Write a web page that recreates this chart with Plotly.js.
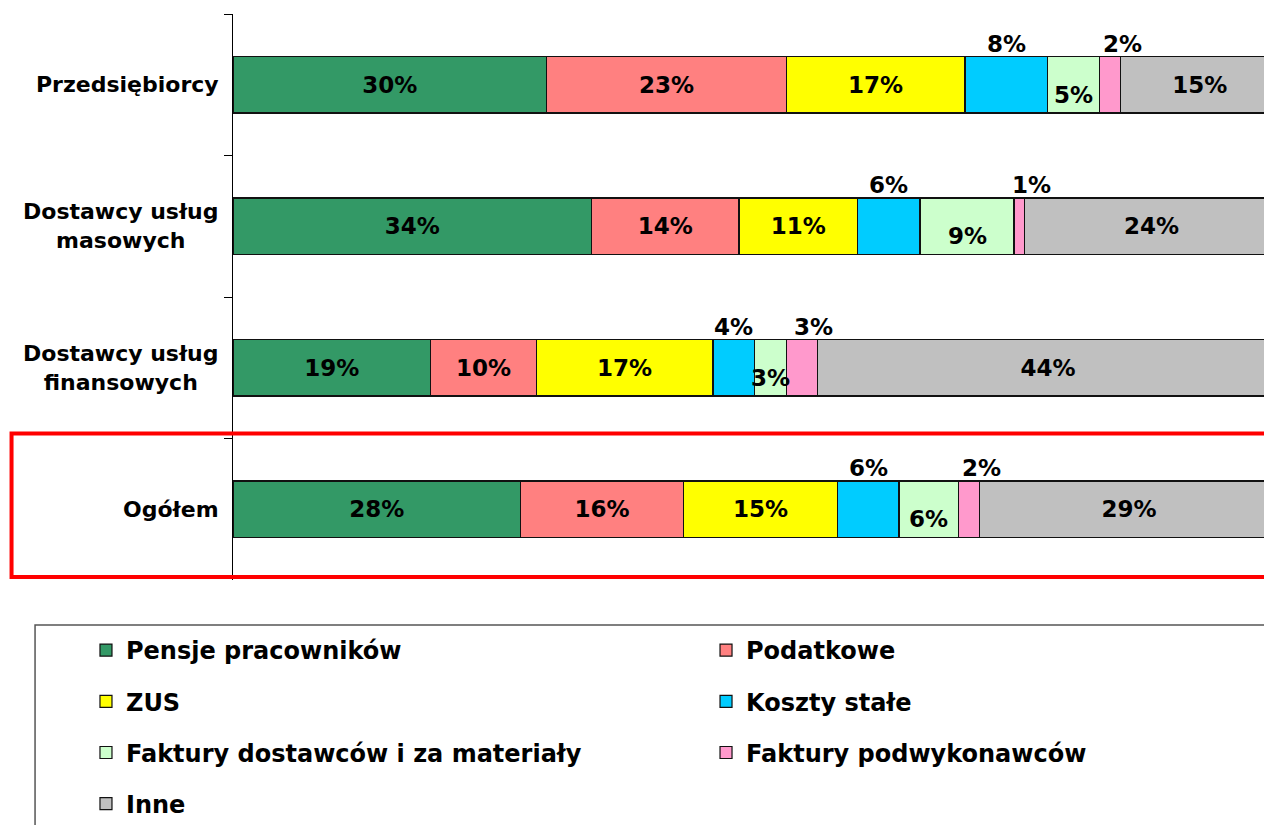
<!DOCTYPE html>
<html>
<head>
<meta charset="utf-8">
<script src="https://cdn.plot.ly/plotly-3.0.1.min.js"></script>
<style>
  html, body { margin: 0; padding: 0; background: #fff; overflow: hidden; }
  #chart { width: 1264px; height: 825px; }
</style>
</head>
<body>
<div id="chart"></div>
<script>
// Categories (top to bottom) and shares per cost type, in %
const categories = ['Przedsiębiorcy', 'Dostawcy usług<br>masowych', 'Dostawcy usług<br>finansowych', 'Ogółem'];
const pensje = [30.0, 34.3, 18.9, 27.5];
const podatkowe = [22.9, 14.1, 10.1, 15.6];
const zus = [17.1, 11.3, 16.9, 14.7];
const kosztyStale = [7.9, 6.0, 4.0, 5.9];
const fakturyDostawcow = [5.0, 9.0, 3.0, 5.7];
const fakturyPodwyk = [2.0, 1.0, 3.0, 2.0];
const inne = [15.1, 24.3, 44.1, 28.6];

const seriesNames = ['Pensje pracowników', 'Podatkowe', 'ZUS', 'Koszty stałe',
  'Faktury dostawców i za materiały', 'Faktury podwykonawców', 'Inne'];
const seriesValues = [pensje, podatkowe, zus, kosztyStale, fakturyDostawcow, fakturyPodwyk, inne];
const seriesColors = ['#339966', '#FF8080', '#FFFF00', '#00CCFF', '#CCFFCC', '#FF99CC', '#C0C0C0'];

// where each label goes: inside the bar, above it, or pushed down a bit
const labelMode = ['inside', 'inside', 'inside', 'above', 'low', 'above', 'inside'];
const legendColumn = ['legend', 'legend2', 'legend', 'legend2', 'legend', 'legend2', 'legend'];

const family = 'Tahoma, "DejaVu Sans", sans-serif';
const catFont = { family: family, size: 22, color: '#000', weight: 'bold' };
const barFont = { family: family, size: 23, color: '#000', weight: 'bold' };
const legendFont = { family: family, size: 24, color: '#000', weight: 'bold' };

const traces = seriesNames.map((name, i) => ({
  type: 'bar',
  orientation: 'h',
  name: name,
  x: seriesValues[i],
  y: categories,
  marker: { color: seriesColors[i], line: { color: '#111', width: 1.2 } },
  text: labelMode[i] === 'inside' ? seriesValues[i].map(v => Math.round(v) + '%') : null,
  textposition: labelMode[i] === 'inside' ? 'inside' : 'none',
  insidetextanchor: 'middle',
  constraintext: 'none',
  textangle: 0,
  textfont: barFont,
  legend: legendColumn[i],
  legendgroup: 'g' + i,
  hoverinfo: 'name+x'
}));

// labels that Excel placed outside the centre of the segment
const annotations = [];
categories.forEach((cat, c) => {
  let start = 0;
  seriesValues.forEach((vals, i) => {
    const v = vals[c];
    if (labelMode[i] === 'above' || labelMode[i] === 'low') {
      annotations.push({
        x: start + v / 2, y: cat, xref: 'x', yref: 'y',
        text: Math.round(v) + '%', showarrow: false, font: barFont,
        yshift: labelMode[i] === 'above' ? 41 : -10,
        xshift: i === 5 ? 12 : 0
      });
    }
    start += v;
  });
  // category label, lines centred on each other
  annotations.push({
    x: -0.012, xref: 'paper', xanchor: 'right', y: cat, yref: 'y',
    text: cat, align: 'center', showarrow: false, font: catFont
  });
});

const layout = {
  width: 1264,
  height: 825,
  margin: { l: 233, r: 0, t: 14, b: 245, autoexpand: false },
  paper_bgcolor: '#fff',
  plot_bgcolor: '#fff',
  font: barFont,
  barmode: 'stack',
  bargap: 0.6,
  xaxis: { range: [0, 98.6], visible: false, fixedrange: true },
  yaxis: {
    type: 'category',
    autorange: 'reversed',
    showline: true, linecolor: '#000', linewidth: 1,
    ticks: 'outside', tickson: 'boundaries', ticklen: 8, tickcolor: '#000', tickwidth: 1,
    showgrid: false, zeroline: false, showticklabels: false, fixedrange: true
  },
  legend: {
    x: -0.1426, xanchor: 'left', y: -0.0848, yanchor: 'top',
    bgcolor: 'rgba(0,0,0,0)', borderwidth: 0, tracegroupgap: 17, font: legendFont
  },
  legend2: {
    x: 0.4588, xanchor: 'left', y: -0.0848, yanchor: 'top',
    bgcolor: 'rgba(0,0,0,0)', borderwidth: 0, tracegroupgap: 17, font: legendFont
  },
  shapes: [
    // red frame around the total
    { type: 'rect', xref: 'paper', yref: 'paper', x0: -0.2148, x1: 1.1, y0: 0.0053, y1: 0.2588,
      line: { color: '#FF0000', width: 4 }, fillcolor: 'rgba(0,0,0,0)' },
    // legend box, runs past the picture edge
    { type: 'rect', xref: 'paper', yref: 'paper', x0: -0.192, x1: 1.1, y0: -0.5, y1: -0.0795,
      line: { color: '#555', width: 1.5 }, fillcolor: 'rgba(0,0,0,0)' }
  ],
  annotations: annotations,
  showlegend: true
};

Plotly.newPlot('chart', traces, layout, { displayModeBar: false, staticPlot: true });
</script>
</body>
</html>
